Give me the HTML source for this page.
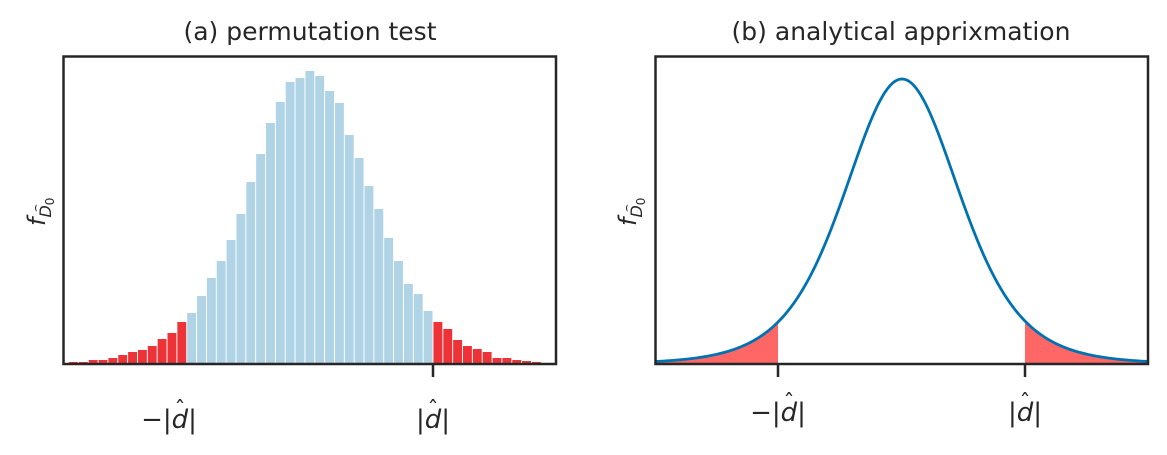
<!DOCTYPE html>
<html><head><meta charset="utf-8"><style>
html,body{margin:0;padding:0;background:#fff;}
svg{display:block;}
text{font-family:"DejaVu Sans","Liberation Sans",sans-serif;fill:#262626;}
</style></head><body>
<svg id="s" width="1167" height="455" viewBox="0 0 1167 455" xmlns="http://www.w3.org/2000/svg">
<g id="bars"></g>
<path id="fillL" fill="#ff6666" stroke="none"/>
<path id="fillR" fill="#ff6666" stroke="none"/>
<path id="curve" fill="none" stroke="#0072b2" stroke-width="2.8"/>
<rect x="63.5" y="56.5" width="492.5" height="307.5" fill="none" stroke="#262626" stroke-width="2.5"/>
<rect x="655.5" y="56.5" width="492.5" height="307.5" fill="none" stroke="#262626" stroke-width="2.5"/>
<line x1="433" y1="364" x2="433" y2="377" stroke="#262626" stroke-width="2.5"/>
<line x1="778" y1="364" x2="778" y2="377" stroke="#262626" stroke-width="2.5"/>
<line x1="1025" y1="364" x2="1025" y2="377" stroke="#262626" stroke-width="2.5"/>
<text x="310" y="40" font-size="25" text-anchor="middle">(a) permutation test</text>
<text x="901" y="40" font-size="25" text-anchor="middle">(b) analytical apprixmation</text>
<g font-size="26" font-style="italic" text-anchor="middle">
<text x="169" y="428">−|d|</text>
<text x="433" y="428">|d|</text>
<text x="778" y="421">−|d|</text>
<text x="1025" y="421">|d|</text>
</g>
<g font-size="22" text-anchor="middle">
<text x="180" y="417">ˆ</text><text x="433" y="417">ˆ</text>
<text x="789" y="410">ˆ</text><text x="1025" y="410">ˆ</text>
</g>
<g transform="translate(45,226) rotate(-90)"><text font-size="24" font-style="italic">f<tspan font-size="16" dy="6">D</tspan><tspan font-size="12" dy="3" font-style="normal">0</tspan></text><text x="14" y="-6" font-size="12">⌢</text></g>
<g transform="translate(636,226) rotate(-90)"><text font-size="24" font-style="italic">f<tspan font-size="16" dy="6">D</tspan><tspan font-size="12" dy="3" font-style="normal">0</tspan></text><text x="14" y="-6" font-size="12">⌢</text></g>
</svg>
<script>
var tops=[362,362,360,360,358,355,352,350,346,339,333,322,313,296,278,261,240,214,182,154,123,102,82,78,71,76,91,103,135,158,186,209,238,261,284,294,311,322,329,340,346,349,352,358,358,360,361,362];
var g=document.getElementById('bars'),h='';
for(var i=0;i<tops.length;i++){var x=69+i*9.85;var red=(i<12||i>=37);
h+='<rect x="'+x.toFixed(2)+'" y="'+tops[i]+'" width="8.9" height="'+(364-tops[i])+'" fill="'+(red?'#ee3338':'#b0d4e6')+'"/>';}
g.innerHTML=h;
function f(x){var u=(x-902)/59.3;return 364-285*Math.pow(1+u*u/6,-3.5);}
var d='',dl='M655,364',dr='M1025,364';
for(var x=655;x<=1148;x+=1){var y=f(x).toFixed(2);d+=(x==655?'M':'L')+x+','+y;
if(x<=778)dl+='L'+x+','+y; if(x>=1025)dr+='L'+x+','+y;}
dl+='L778,364Z';dr+='L1148,364Z';
document.getElementById('curve').setAttribute('d',d);
document.getElementById('fillL').setAttribute('d',dl);
document.getElementById('fillR').setAttribute('d',dr);
</script>
</body></html>
